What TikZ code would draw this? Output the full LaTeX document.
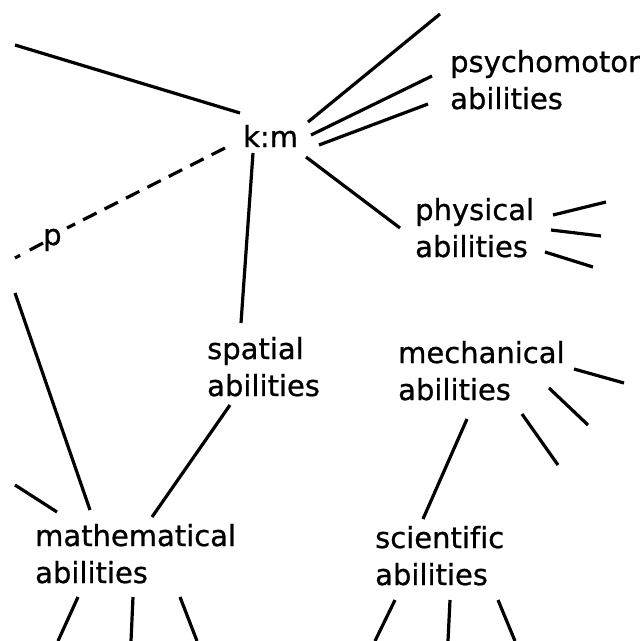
\documentclass[tikz,border=0pt]{standalone}
\usepackage{fontspec}
\setmainfont[Ligatures=CommonOff]{DejaVu Sans}
\newfontfamily\lblfont[Ligatures=CommonOff,FakeBold=0.8]{DejaVu Sans}
\begin{document}
\begin{tikzpicture}[x=1pt,y=-1pt,
  lbl/.style={anchor=base west, inner sep=0pt, align=left, font=\lblfont\fontsize{29}{37}\selectfont},
  ln/.style={line width=3.2pt},
  dl/.style={ln, dash pattern=on 15pt off 9pt}]
\useasboundingbox[fill=white] (0,0) rectangle (640,641);
% labels (base = baseline of the last line)
\node[lbl] (km) at (243,147) {k:m};
\node[lbl] (psy) at (450,109) {psychomotor\\abilities};
\node[lbl] (phys) at (415,257) {physical\\abilities};
\node[lbl] (spat) at (207,396) {spatial\\abilities};
\node[lbl] (mech) at (398,400) {mechanical\\abilities};
\node[lbl] (math) at (35,583) {mathematical\\abilities};
\node[lbl] (sci) at (375,585) {scientific\\abilities};
\node[lbl] (p) at (43,245) {p};
% connector end points
\coordinate (kmNW) at (240,113);  \coordinate (tl) at (15,45);
\coordinate (kmA) at (308,122);   \coordinate (pA) at (440,14);
\coordinate (kmB) at (311,135);   \coordinate (pB) at (432,76);
\coordinate (kmC) at (319,145);   \coordinate (pC) at (428,104);
\coordinate (kmD) at (306,157);   \coordinate (phN) at (400,228);
\coordinate (kmS) at (253,153);   \coordinate (spN) at (241,323);
\coordinate (kmW) at (225,148);   \coordinate (pR) at (67,228);
\coordinate (pL) at (43,243);     \coordinate (dl) at (15,258);
\coordinate (ph1) at (553,215);   \coordinate (ph1e) at (606,202);
\coordinate (ph2) at (551,230);   \coordinate (ph2e) at (601,236);
\coordinate (ph3) at (545,252);   \coordinate (ph3e) at (593,267);
\coordinate (spS) at (230,405);   \coordinate (maNE) at (152,517);
\coordinate (lt) at (15,293);     \coordinate (maN) at (90,510);
\coordinate (l2) at (15,485);     \coordinate (maNW) at (57,512);
\coordinate (ma1) at (78,597);    \coordinate (ma1e) at (58,641);
\coordinate (ma2) at (133,597);   \coordinate (ma2e) at (131,641);
\coordinate (ma3) at (180,597);   \coordinate (ma3e) at (197,641);
\coordinate (me1) at (574,369);   \coordinate (me1e) at (624,383);
\coordinate (me2) at (549,388);   \coordinate (me2e) at (588,425);
\coordinate (me3) at (522,414);   \coordinate (me3e) at (558,465);
\coordinate (meS) at (467,419);   \coordinate (scN) at (423,519);
\coordinate (sc1) at (395,600);   \coordinate (sc1e) at (375,641);
\coordinate (sc2) at (450,600);   \coordinate (sc2e) at (448,641);
\coordinate (sc3) at (498,600);   \coordinate (sc3e) at (515,641);
% connectors
\draw[ln] (kmNW) -- (tl);
\draw[ln] (kmA) -- (pA);
\draw[ln] (kmB) -- (pB);
\draw[ln] (kmC) -- (pC);
\draw[ln] (kmD) -- (phN);
\draw[ln] (kmS) -- (spN);
\draw[dl] (kmW) -- (pR);
\draw[ln, dash pattern=on 15pt off 11pt on 8pt off 20pt] (pL) -- (dl);
\draw[ln] (ph1) -- (ph1e);
\draw[ln] (ph2) -- (ph2e);
\draw[ln] (ph3) -- (ph3e);
\draw[ln] (spS) -- (maNE);
\draw[ln] (lt) -- (maN);
\draw[ln] (l2) -- (maNW);
\draw[ln] (ma1) -- (ma1e);
\draw[ln] (ma2) -- (ma2e);
\draw[ln] (ma3) -- (ma3e);
\draw[ln] (me1) -- (me1e);
\draw[ln] (me2) -- (me2e);
\draw[ln] (me3) -- (me3e);
\draw[ln] (meS) -- (scN);
\draw[ln] (sc1) -- (sc1e);
\draw[ln] (sc2) -- (sc2e);
\draw[ln] (sc3) -- (sc3e);
\end{tikzpicture}
\end{document}
